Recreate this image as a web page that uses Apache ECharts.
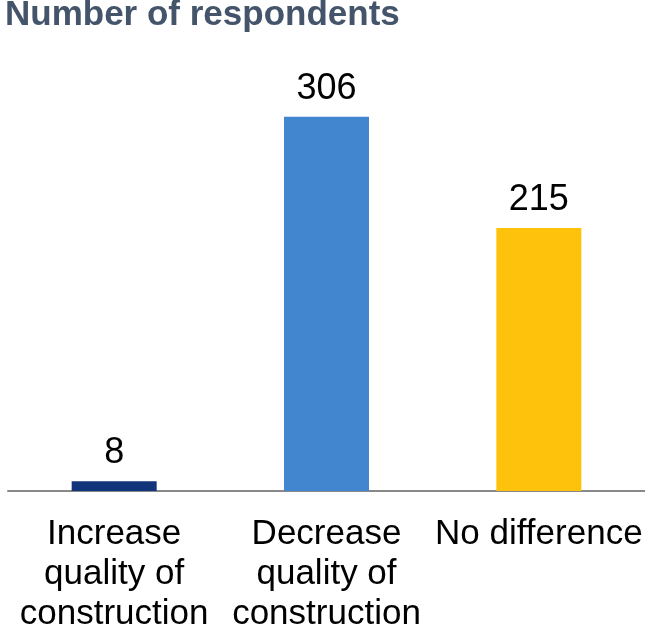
<!DOCTYPE html>
<html>
<head>
<meta charset="utf-8">
<script src="https://cdn.jsdelivr.net/npm/echarts@6/dist/echarts.min.js"></script>
<style>
  html, body { margin: 0; padding: 0; background: #fff; }
  #chart { width: 645px; height: 630px; }
</style>
</head>
<body>
<div id="chart"></div>
<script>
const categories = ['Increase\nquality of\nconstruction', 'Decrease\nquality of\nconstruction', 'No difference'];
const respondents = [8, 306, 215];
const barColors = ['#12347A', '#4286D0', '#FEC20C'];

const chart = echarts.init(document.getElementById('chart'));

chart.setOption({
  animation: false,
  title: {
    text: 'Number of respondents',
    left: 5,
    top: -2,
    padding: 0,
    textStyle: {
      fontFamily: 'Liberation Sans',
      fontWeight: 'bold',
      fontSize: 35,
      color: '#44546A'
    }
  },
  grid: {
    left: 8,
    right: 0,
    top: 63,
    bottom: 139,
    outerBoundsMode: 'none'
  },
  xAxis: {
    type: 'category',
    data: categories,
    axisLine: {
      lineStyle: { color: '#898989', width: 2 }
    },
    axisTick: { show: false },
    axisLabel: {
      interval: 0,
      margin: 23,
      fontFamily: 'Liberation Sans',
      fontSize: 35,
      lineHeight: 40,
      color: '#000'
    }
  },
  yAxis: {
    type: 'value',
    min: 0,
    max: 350,
    show: false
  },
  series: [{
    type: 'bar',
    barWidth: 85,
    data: respondents.map((v, i) => ({ value: v, itemStyle: { color: barColors[i] } })),
    label: {
      show: true,
      position: 'top',
      distance: 10,
      fontFamily: 'Liberation Sans',
      fontSize: 36,
      color: '#000'
    }
  }]
});
</script>
</body>
</html>
